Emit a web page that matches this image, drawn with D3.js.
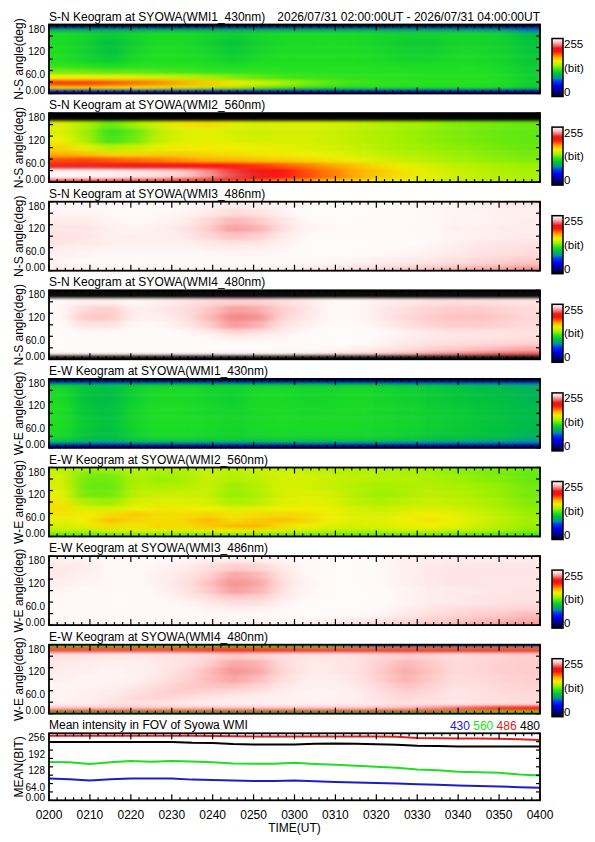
<!DOCTYPE html>
<html><head><meta charset="utf-8">
<script src="https://cdn.jsdelivr.net/npm/d3@7/dist/d3.min.js"></script>
<style>
html,body{margin:0;padding:0;background:#fff;}
text{font-family:"Liberation Sans",Arial,Helvetica,sans-serif;}
</style></head><body>
<svg id="chart" width="595" height="842"></svg>
<script>
// ---------------- DATA ----------------
const dateRangeText = "2026/07/31 02:00:00UT - 2026/07/31 04:00:00UT";
const panelTitles = [
  "S-N Keogram at SYOWA(WMI1_430nm)","S-N Keogram at SYOWA(WMI2_560nm)",
  "S-N Keogram at SYOWA(WMI3_486nm)","S-N Keogram at SYOWA(WMI4_480nm)",
  "E-W Keogram at SYOWA(WMI1_430nm)","E-W Keogram at SYOWA(WMI2_560nm)",
  "E-W Keogram at SYOWA(WMI3_486nm)","E-W Keogram at SYOWA(WMI4_480nm)"];
const panelYLabels = ["N-S angle(deg)","N-S angle(deg)","N-S angle(deg)","N-S angle(deg)",
  "W-E angle(deg)","W-E angle(deg)","W-E angle(deg)","W-E angle(deg)"];
// keogram cell edges (time columns, angle rows from 180 down to 0)
const colEdges = ["0200","0206","0212","0218","0224","0230","0236","0242","0248","0254","0300",
  "0306","0312","0318","0324","0330","0336","0342","0348","0354","0400"];
const angleEdges = [180,175,170,160,140,120,100,80,65,50,35,20,10,5,0];
const angleTicks = [180,120,60,0];
const angleTickLabels = ["180","120","60.0","0.00"];
const timeTickFormat = "%H%M";
// colour table (bit value -> colour)
const cmapValues = [0,13,45,65,80,100,115,135,155,172,185,198,212,225,240,255];
const cmapColors = ["#000000","#000060","#0000e0","#0030ff","#0090a0","#00c040","#20e020","#a0f000",
  "#f0f000","#ffb000","#ff6000","#ff1010","#e81818","#f07070","#ffc8c8","#ffffff"];

const snWMI1_430 = [
 [5,5,5,5,5,5,5,5,5,5,5,5,5,5,5,5,5,5,5,5],
 [25,25,25,25,25,25,25,25,25,25,25,25,25,25,25,25,25,22,20,18],
 [95,95,92,95,96,96,95,94,95,95,95,95,94,94,92,92,90,88,85,75],
 [112,110,104,110,112,112,110,106,110,112,112,112,112,110,108,108,110,110,108,100],
 [113,108,100,108,113,112,108,102,108,112,112,113,112,110,106,105,110,110,108,102],
 [114,108,100,110,114,113,110,104,110,113,113,113,113,111,108,107,111,111,109,103],
 [115,110,104,112,115,114,112,108,112,114,114,114,114,112,110,110,112,112,110,104],
 [118,116,112,116,116,116,115,113,115,115,115,115,115,114,113,113,113,113,111,105],
 [128,126,124,124,122,120,118,117,117,116,116,116,115,115,115,114,114,114,112,106],
 [155,155,152,150,147,142,136,130,125,121,119,118,117,116,116,115,115,115,113,107],
 [190,190,186,182,178,172,165,158,148,138,130,124,120,118,117,116,116,116,114,108],
 [160,160,158,155,150,146,140,135,128,122,118,115,114,114,114,113,113,113,112,105],
 [60,60,60,60,60,60,60,58,58,56,56,56,55,55,55,55,54,52,50,45],
 [18,18,18,18,18,18,18,18,18,18,18,18,18,18,18,18,18,18,18,15]];
const snWMI2_560 = [
 [0,0,0,0,0,0,0,0,0,0,0,0,0,0,0,0,0,0,0,0],
 [0,0,0,0,0,0,0,0,0,0,0,0,0,0,0,0,0,0,0,0],
 [0,0,0,0,0,0,0,0,0,0,0,0,0,0,0,0,0,0,0,0],
 [150,140,125,135,148,158,160,152,148,150,150,148,145,140,137,134,131,129,127,126],
 [150,135,118,126,142,150,152,148,146,148,148,146,142,138,135,132,130,128,126,125],
 [155,138,120,128,144,150,152,150,148,148,148,145,142,138,135,132,130,128,126,125],
 [162,152,140,145,152,156,156,155,153,152,150,148,145,140,137,134,132,130,128,126],
 [172,168,162,162,164,164,162,160,158,157,155,152,148,144,140,137,134,132,130,128],
 [188,190,186,183,180,176,172,170,167,164,162,158,153,148,144,140,137,134,132,130],
 [214,214,213,211,208,204,200,196,192,186,180,174,167,160,154,148,143,140,137,135],
 [252,251,250,248,245,240,230,218,208,198,188,180,172,165,158,151,146,142,139,137],
 [253,252,251,249,246,241,232,220,210,200,190,182,173,166,159,152,147,143,140,138],
 [235,235,232,228,224,218,212,205,198,190,182,175,168,161,155,149,145,141,139,137],
 [198,198,196,194,192,190,187,183,179,174,169,164,159,154,149,145,141,139,137,135]];
const snWMI3_486 = [
 [250,250,250,250,250,250,249,248,248,249,250,250,250,250,250,249,248,247,246,245],
 [253,253,253,253,253,253,252,251,251,252,253,253,253,253,253,252,251,250,249,248],
 [253,253,254,254,254,253,251,249,250,252,254,254,254,254,254,253,252,251,251,250],
 [252,252,253,253,253,252,249,245,247,251,254,254,254,254,254,253,252,252,251,251],
 [250,250,252,253,252,250,244,237,240,248,253,254,254,253,253,253,252,252,251,250],
 [248,248,251,252,251,248,241,233,236,246,252,253,253,253,253,253,251,251,250,250],
 [247,248,251,251,251,249,244,239,242,249,253,254,254,254,254,253,252,251,250,249],
 [248,249,251,251,251,251,249,247,248,251,254,254,254,254,254,253,251,249,248,248],
 [250,251,252,252,252,252,251,250,251,252,254,254,254,254,253,252,250,248,247,246],
 [251,252,253,253,253,253,253,252,252,253,254,254,254,253,252,251,249,247,246,245],
 [252,253,253,253,253,253,253,253,253,253,253,253,252,251,250,249,247,245,243,241],
 [252,252,253,253,253,253,253,253,253,253,252,251,250,249,247,245,243,241,239,237],
 [251,251,252,252,252,252,252,252,252,251,250,248,246,244,242,240,238,236,234,231],
 [249,249,250,250,250,250,250,250,249,248,247,245,243,241,239,237,235,233,231,229]];
const snWMI4_480 = [
 [0,0,0,0,0,0,0,0,0,0,0,0,0,0,0,0,0,0,0,0],
 [0,0,0,0,0,0,0,0,0,0,0,0,0,0,0,0,0,0,0,0],
 [0,0,0,0,0,0,0,0,0,0,0,0,0,0,0,0,0,0,0,0],
 [253,251,251,253,251,248,245,242,242,246,249,253,253,251,249,247,246,246,247,248],
 [253,244,242,251,249,246,240,233,235,242,248,253,253,249,246,243,241,241,243,245],
 [253,240,240,251,251,247,238,229,231,243,249,253,253,249,245,241,239,239,241,244],
 [254,247,247,253,253,249,242,232,236,247,251,254,254,251,247,243,241,241,243,245],
 [254,253,253,254,254,253,249,242,245,249,253,254,254,253,251,249,247,247,247,247],
 [254,254,254,254,254,254,253,249,251,252,254,254,254,253,251,249,248,248,247,246],
 [254,254,254,254,254,254,254,253,253,253,254,254,254,252,249,247,246,245,244,243],
 [254,254,254,254,254,254,254,254,254,254,254,253,251,249,246,243,241,239,237,235],
 [251,251,251,251,251,251,251,251,251,251,249,247,245,242,238,234,230,227,224,222],
 [0,0,0,0,0,0,0,0,0,0,0,0,0,0,0,0,0,0,0,0],
 [0,0,0,0,0,0,0,0,0,0,0,0,0,0,0,0,0,0,0,0]];
const ewWMI1_430 = [
 [15,15,15,15,15,15,15,15,15,15,15,15,15,15,15,15,15,15,15,15],
 [40,40,38,40,40,40,40,40,40,40,40,40,40,40,38,36,34,32,30,28],
 [100,96,94,100,102,102,100,100,100,100,100,100,100,98,96,94,92,90,88,84],
 [112,102,99,108,112,112,110,108,112,112,110,110,112,110,108,105,103,100,99,95],
 [113,101,98,108,113,112,110,107,112,112,110,111,112,110,108,105,103,101,100,96],
 [114,102,99,109,113,113,111,108,112,112,111,111,112,111,109,106,104,102,100,97],
 [114,103,100,110,114,113,111,109,112,113,111,112,112,111,109,107,105,103,101,98],
 [114,104,101,110,114,113,112,110,112,113,112,112,112,111,110,107,105,103,101,98],
 [114,104,101,110,114,113,112,110,112,113,112,112,112,111,110,107,105,103,101,98],
 [113,103,100,109,113,112,111,109,111,112,111,111,111,110,108,106,104,102,100,96],
 [110,101,98,106,110,110,108,107,108,109,108,108,108,107,105,103,101,99,97,93],
 [95,90,88,93,95,95,94,93,94,95,94,94,93,92,90,88,86,84,82,78],
 [50,48,46,48,50,50,50,50,50,50,50,50,50,48,46,44,42,40,38,35],
 [18,18,18,18,18,18,18,18,18,18,18,18,18,18,18,18,18,18,18,18]];
const ewWMI2_560 = [
 [140,138,138,140,138,138,140,140,140,140,137,136,135,134,133,132,130,129,128,126],
 [142,133,133,140,136,137,142,140,142,143,141,140,138,137,136,134,132,130,128,126],
 [145,130,130,140,136,138,145,140,145,148,145,142,140,140,138,135,132,130,128,125],
 [148,128,127,139,134,136,145,138,142,148,148,145,142,140,140,138,135,132,130,126],
 [150,127,126,140,138,140,145,134,140,148,148,145,140,136,138,140,138,135,132,128],
 [152,128,127,142,145,145,145,133,138,148,150,148,140,134,138,142,140,137,133,128],
 [158,138,134,148,150,150,148,137,141,150,152,150,142,139,142,145,143,140,135,130],
 [160,150,148,155,158,156,155,150,152,155,155,153,148,145,148,150,148,143,138,132],
 [158,156,160,165,160,160,162,158,160,162,160,155,150,148,152,155,152,146,140,134],
 [152,155,168,162,160,162,170,160,165,168,162,155,150,150,155,158,155,148,142,135],
 [148,152,160,158,162,160,165,168,170,160,155,150,148,150,152,155,152,146,140,134],
 [140,142,148,150,150,150,152,155,152,148,145,142,140,142,145,145,142,138,135,130],
 [128,128,130,132,132,132,133,134,133,131,130,129,128,128,129,129,128,126,124,122],
 [120,120,121,122,122,122,123,123,123,122,121,120,120,120,120,120,119,118,117,116]];
const ewWMI3_486 = [
 [251,251,251,251,251,251,251,251,251,251,251,251,251,251,248,247,247,247,247,247],
 [252,253,253,253,253,253,252,251,251,252,253,253,253,253,251,250,250,250,250,250],
 [251,251,253,253,253,252,250,248,249,252,254,254,254,253,251,250,249,249,249,249],
 [249,250,253,253,252,250,246,241,243,249,253,254,254,253,251,249,248,248,248,248],
 [249,251,253,253,251,248,243,234,237,247,253,254,254,253,251,249,248,248,248,248],
 [251,252,253,253,251,247,239,231,234,246,252,254,254,253,251,249,248,248,248,248],
 [252,253,253,253,252,248,241,233,236,247,253,254,254,254,252,250,249,249,248,247],
 [253,253,253,253,253,250,246,240,242,249,253,254,254,254,252,250,249,248,247,247],
 [253,253,253,253,253,252,249,246,246,251,254,254,254,254,252,250,249,248,247,246],
 [253,253,253,253,253,253,252,251,251,253,254,254,254,253,251,248,246,245,244,243],
 [253,253,253,253,253,253,253,253,253,253,254,254,253,252,249,246,244,242,240,238],
 [253,253,253,253,253,253,253,253,253,253,253,252,250,248,246,243,241,239,237,235],
 [252,252,252,252,252,252,252,252,252,252,251,249,247,245,242,240,238,236,234,233],
 [250,250,250,250,250,250,250,250,250,250,249,247,245,243,240,238,236,234,232,231]];
const ewWMI4_480 = [
 [112,112,112,112,112,112,112,112,112,100,90,80,70,60,58,56,55,55,55,55],
 [185,185,185,185,185,185,185,185,182,178,175,172,170,168,168,168,168,168,168,168],
 [218,218,218,218,218,218,216,214,214,214,215,215,215,215,214,214,214,214,214,214],
 [247,248,249,249,248,247,244,240,242,246,248,248,247,244,241,243,246,245,243,242],
 [249,250,251,251,249,247,242,234,236,245,249,249,247,242,237,240,245,244,242,241],
 [250,251,252,251,249,245,238,231,234,244,249,249,247,241,235,239,245,244,242,241],
 [251,252,252,251,248,243,238,234,238,246,250,250,248,242,236,240,246,245,243,242],
 [252,252,251,249,245,241,239,239,243,248,251,251,249,244,239,242,247,246,244,243],
 [252,251,250,247,243,241,243,245,247,250,252,252,250,246,242,244,248,247,245,244],
 [252,251,249,245,243,245,248,249,250,251,252,252,250,247,244,246,248,247,246,245],
 [251,250,248,246,247,249,250,250,251,251,251,251,250,248,246,247,248,247,246,245],
 [240,240,240,240,240,240,240,240,240,240,240,240,240,239,238,232,226,220,215,212],
 [205,205,205,205,205,205,205,205,205,205,205,205,205,205,205,195,188,182,178,175],
 [115,115,115,115,115,115,115,115,115,115,115,115,115,115,115,115,115,115,115,115]];
const keograms = [snWMI1_430, snWMI2_560, snWMI3_486, snWMI4_480, ewWMI1_430, ewWMI2_560, ewWMI3_486, ewWMI4_480];

// mean intensity panel
const meanTitle = "Mean intensity in FOV of Syowa WMI";
const meanTimes = ["0200","0205","0210","0215","0220","0225","0230","0235","0240","0245","0250","0255","0300",
  "0305","0310","0315","0320","0325","0330","0335","0340","0345","0350","0355","0400"];
const mean430 = [83,80,76,80,83,83,83,79,78,76,74,74,76,73,70,68,66,64,61,59,57,55,53,50,48];
const mean560 = [146,145,139,145,150,147,150,148,145,141,140,140,143,139,136,132,128,124,118,115,109,107,105,99,95];
const mean486 = [247,247,247,247,247,247,247,247,246,245,244,244,244,244,244,244,244,243,238,237,236,236,235,233,230];
const mean480 = [223,223,223,223,223,223,223,220,219,215,213,213,213,216,217,216,214,212,208,207,206,206,206,206,206];
const meanSeriesNames = ["430","560","486","480"];
const meanSeriesColors = ["#1c1cc8","#22dd22","#e02020","#000000"];
const meanTicks = [256,192,128,64,0];
const meanTickLabels = ["256","192","128","64.0","0.00"];

// ---------------- LAYOUT ----------------
const W = 595, H = 842;
const X0 = 49, X1 = 540;
const TOP0 = 24.5, STEP = 88.6, KH = 69, MH = 67;
const svg = d3.select("#chart");
const defs = svg.append("defs");
const toDate = s => new Date(Date.UTC(2026, 6, 31, +s.slice(0,2), +s.slice(2)));
const colDates = colEdges.map(toDate);
const x = d3.scaleUtc().domain([toDate("0200"), toDate("0400")]).range([X0, X1]);
const color = d3.scaleLinear().domain(cmapValues).range(cmapColors).interpolate(d3.interpolateRgb).clamp(true);
const fmt = d3.utcFormat(timeTickFormat);

svg.append("rect").attr("width", W).attr("height", H).attr("fill", "#fff");

const soft = defs.append("filter").attr("id", "soft").attr("filterUnits", "userSpaceOnUse")
  .attr("x", 0).attr("y", 0).attr("width", W).attr("height", H)
  .attr("color-interpolation-filters", "sRGB");
soft.append("feGaussianBlur").attr("stdDeviation", "9 1.5");

const grad = defs.append("linearGradient").attr("id", "cbar").attr("x1", 0).attr("y1", 1).attr("x2", 0).attr("y2", 0);
grad.selectAll("stop").data(cmapValues).join("stop")
  .attr("offset", d => d / 255).attr("stop-color", d => color(d));

const minorT = x.ticks(d3.utcMinute.every(2));
const majorSet = new Set(x.ticks(d3.utcMinute.every(10)).map(d => +d));

function drawFrame(top, bot, yScale, yTickVals) {
  const g = svg.append("g").attr("stroke", "#000").attr("stroke-width", 1.2).attr("fill", "none");
  const tl = d => majorSet.has(+d) ? 6 : 3;
  g.selectAll("line.xb").data(minorT).join("line").attr("class", "xb")
    .attr("x1", d => x(d)).attr("x2", d => x(d)).attr("y1", bot).attr("y2", d => bot - tl(d));
  g.selectAll("line.xt").data(minorT).join("line").attr("class", "xt")
    .attr("x1", d => x(d)).attr("x2", d => x(d)).attr("y1", top).attr("y2", d => top + tl(d));
  g.selectAll("line.yl").data(yTickVals).join("line").attr("class", "yl")
    .attr("x1", X0).attr("x2", X0 + 4).attr("y1", d => yScale(d)).attr("y2", d => yScale(d));
  g.selectAll("line.yr").data(yTickVals).join("line").attr("class", "yr")
    .attr("x1", X1).attr("x2", X1 - 4).attr("y1", d => yScale(d)).attr("y2", d => yScale(d));
  g.append("rect").attr("x", X0).attr("y", top).attr("width", X1 - X0).attr("height", bot - top)
    .attr("stroke-width", 1.8);
}

function yLabels(vals, labels, yScale, top, bot) {
  svg.append("g").selectAll("text").data(vals).join("text")
    .attr("x", 45).attr("text-anchor", "end").attr("font-size", 10)
    .attr("y", (d, i) => {
      const p = yScale(d);
      if (Math.abs(p - bot) < 1) return bot + 0.5;
      if (Math.abs(p - top) < 1) return top + 8;
      return p + 7.5;
    })
    .text((d, i) => labels[i]);
}

// ---------------- KEOGRAMS ----------------
keograms.forEach((data, i) => {
  const top = TOP0 + i * STEP, bot = top + KH;
  const y = d3.scaleLinear().domain([0, 180]).range([bot, top]);
  const nR = data.length, nC = data[0].length;
  defs.append("clipPath").attr("id", "clip" + i).append("rect")
    .attr("x", X0).attr("y", top).attr("width", X1 - X0).attr("height", KH);
  const cells = [];
  data.forEach((row, r) => row.forEach((v, c) => cells.push({ r, c, v })));
  svg.append("g").attr("clip-path", `url(#clip${i})`)
    .append("g").attr("filter", "url(#soft)")
    .selectAll("rect").data(cells).join("rect")
    .attr("x", d => x(colDates[d.c]) - (d.c === 0 ? 30 : 0))
    .attr("width", d => x(colDates[d.c + 1]) - x(colDates[d.c]) + (d.c === 0 ? 30 : 0) + (d.c === nC - 1 ? 30 : 0) + 0.5)
    .attr("y", d => y(angleEdges[d.r]) - (d.r === 0 ? 8 : 0))
    .attr("height", d => y(angleEdges[d.r + 1]) - y(angleEdges[d.r]) + (d.r === 0 ? 8 : 0) + (d.r === nR - 1 ? 8 : 0) + 0.3)
    .attr("fill", d => color(d.v));

  drawFrame(top, bot, y, [0, 30, 60, 90, 120, 150, 180]);
  yLabels(angleTicks, angleTickLabels, y, top, bot);

  svg.append("text").attr("x", X0).attr("y", top - 4).attr("font-size", 12).text(panelTitles[i]);
  if (i === 0) svg.append("text").attr("x", X1).attr("y", top - 4).attr("font-size", 12)
    .attr("text-anchor", "end").text(dateRangeText);
  svg.append("text").attr("transform", `translate(23,${(top + bot) / 2}) rotate(-90)`)
    .attr("text-anchor", "middle").attr("font-size", 12).text(panelYLabels[i]);

  // colour bar
  const cb = d3.scaleLinear().domain([0, 255]).range([top + 72, top + 14]);
  svg.append("rect").attr("x", 552).attr("y", cb(255)).attr("width", 11).attr("height", cb(0) - cb(255))
    .attr("fill", "url(#cbar)").attr("stroke", "#000").attr("stroke-width", 1.5);
  svg.append("text").attr("x", 564).attr("y", cb(255) + 9.5).attr("font-size", 11.5).text("255");
  svg.append("text").attr("x", 564).attr("y", cb(127.5) + 4).attr("font-size", 11.5).text("(bit)");
  svg.append("text").attr("x", 564).attr("y", cb(0) - 1).attr("font-size", 11.5).text("0");
});

// ---------------- MEAN PANEL ----------------
const mTop = TOP0 + 8 * STEP, mBot = mTop + MH;
const ym = d3.scaleLinear().domain([0, 256]).range([mBot, mTop]);
const mDates = meanTimes.map(toDate);
const series = [mean486, mean480, mean560, mean430];
const seriesCol = [meanSeriesColors[2], meanSeriesColors[3], meanSeriesColors[1], meanSeriesColors[0]];
const line = d3.line().x((d, i) => x(mDates[i])).y(d => ym(d));
svg.append("g").selectAll("path").data(series).join("path")
  .attr("d", d => line(d)).attr("fill", "none")
  .attr("stroke", (d, i) => seriesCol[i]).attr("stroke-width", 2);
drawFrame(mTop, mBot, ym, [0, 32, 64, 96, 128, 160, 192, 224, 256]);
yLabels(meanTicks, meanTickLabels, ym, mTop, mBot);
svg.append("text").attr("x", X0).attr("y", mTop - 4).attr("font-size", 12).text(meanTitle);
const leg = svg.append("text").attr("x", X1).attr("y", mTop - 3).attr("font-size", 12).attr("text-anchor", "end");
meanSeriesNames.forEach((n, i) => {
  leg.append("tspan").attr("fill", meanSeriesColors[i]).text((i ? " " : "") + n);
});
svg.append("text").attr("transform", `translate(23,${(mTop + mBot) / 2}) rotate(-90)`)
  .attr("text-anchor", "middle").attr("font-size", 12).text("MEAN(BIT)");
svg.append("g").selectAll("text").data(x.ticks(d3.utcMinute.every(10))).join("text")
  .attr("x", d => x(d)).attr("y", mBot + 18.5).attr("text-anchor", "middle").attr("font-size", 12)
  .text(d => fmt(d));
svg.append("text").attr("x", (X0 + X1) / 2).attr("y", mBot + 31.5).attr("text-anchor", "middle")
  .attr("font-size", 12).text("TIME(UT)");
</script>
</body></html>
